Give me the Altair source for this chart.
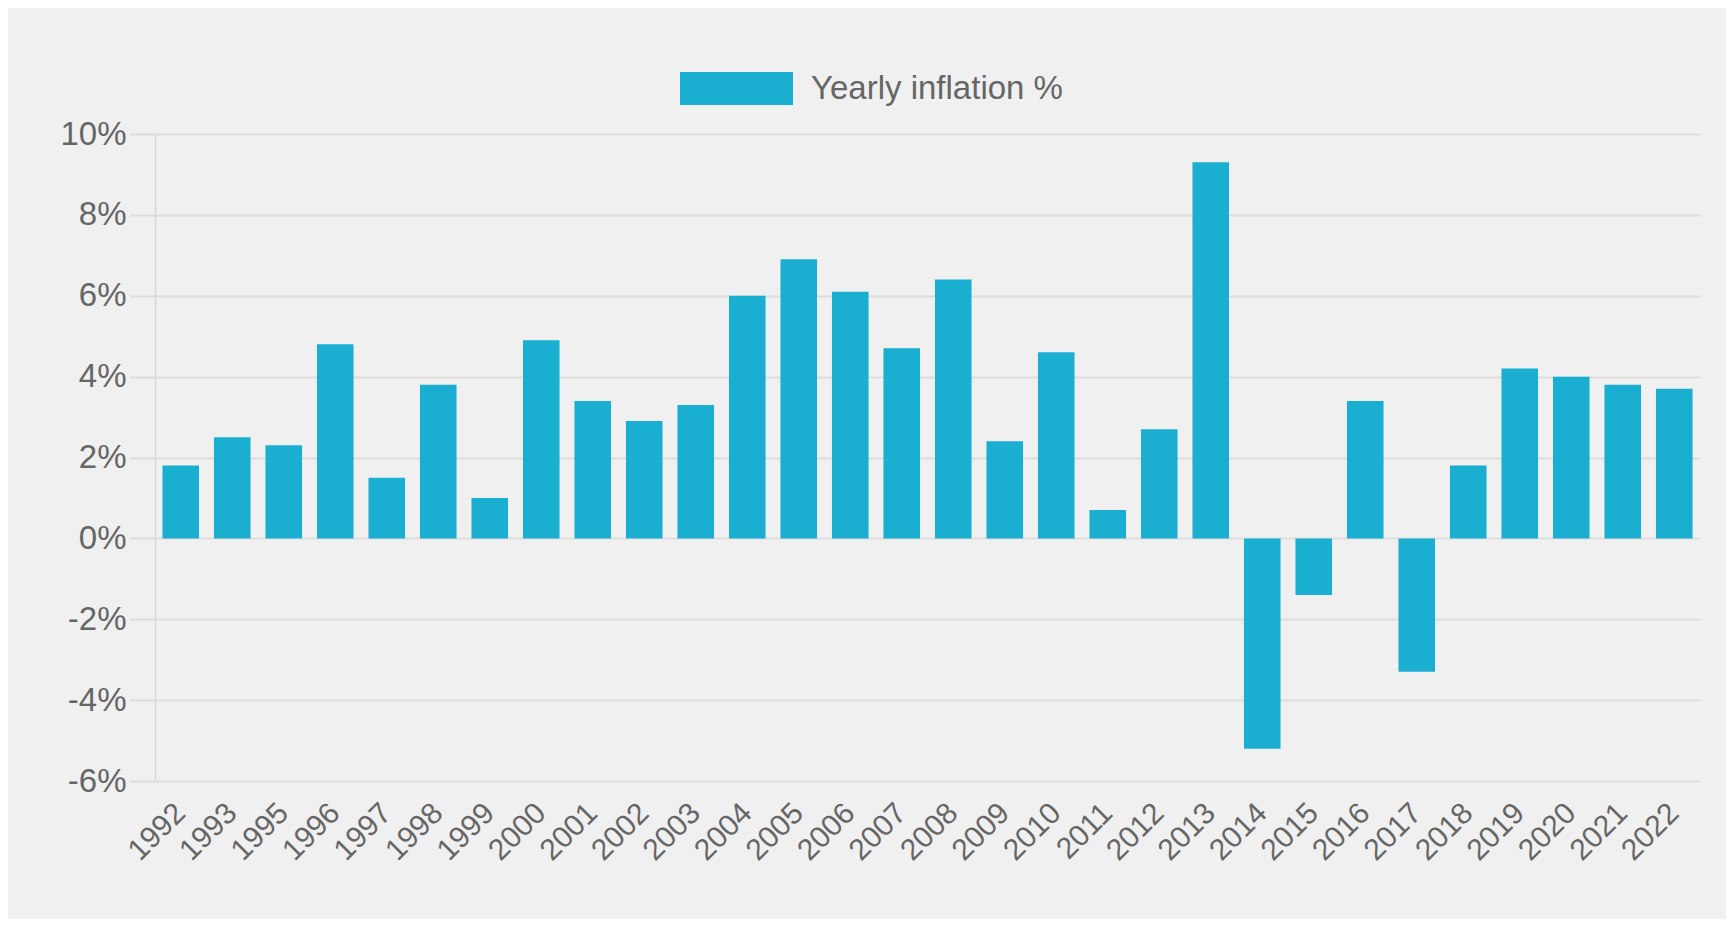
import altair as alt
import pandas as pd

years = ["1992", "1993", "1995", "1996", "1997", "1998", "1999", "2000", "2001", "2002",
         "2003", "2004", "2005", "2006", "2007", "2008", "2009", "2010", "2011", "2012",
         "2013", "2014", "2015", "2016", "2017", "2018", "2019", "2020", "2021", "2022"]
inflation = [1.8, 2.5, 2.3, 4.8, 1.5, 3.8, 1.0, 4.9, 3.4, 2.9,
             3.3, 6.0, 6.9, 6.1, 4.7, 6.4, 2.4, 4.6, 0.7, 2.7,
             9.3, -5.2, -1.4, 3.4, -3.3, 1.8, 4.2, 4.0, 3.8, 3.7]
y_ticks = [-6, -4, -2, 0, 2, 4, 6, 8, 10]
series_name = "Yearly inflation %"

df = pd.DataFrame({"year": years, "value": inflation, "series": series_name})

FONT = "Liberation Sans"
GREY = "#666666"

chart = alt.Chart(df).mark_bar(strokeWidth=0).encode(
    x=alt.X("year:N", sort=years, title=None,
            scale=alt.Scale(paddingInner=0.29, paddingOuter=0.145),
            axis=alt.Axis(labelAngle=-45, labelAlign="right", labelBaseline="middle",
                          labelFontSize=30, labelColor=GREY, labelFont=FONT,
                          labelPadding=27, ticks=False, domain=False, grid=False)),
    y=alt.Y("value:Q", title=None,
            scale=alt.Scale(domain=[-6, 10], nice=False, zero=False),
            axis=alt.Axis(values=y_ticks, labelExpr="datum.value + '%'",
                          grid=True, gridColor="#dddddd", gridWidth=2,
                          tickSize=25, tickColor="#dddddd", tickWidth=2,
                          domainColor="#d6d6d6", domainWidth=1.5,
                          labelPadding=4, labelFontSize=33, labelColor=GREY, labelFont=FONT)),
    color=alt.Color("series:N", scale=alt.Scale(range=["#1aaed0"]),
                    legend=alt.Legend(title=None, orient="none", legendX=525, legendY=-102,
                                      symbolType="M-1,-0.292H1V0.292H-1Z", symbolSize=12769,
                                      symbolStrokeWidth=0, symbolOpacity=1,
                                      labelFontSize=33, labelColor=GREY, labelFont=FONT,
                                      labelLimit=0, labelOffset=18, padding=0)),
).properties(
    width=1545, height=647,
    background="#f0f0f0",
    padding={"left": 147, "top": 126, "right": 26, "bottom": 138},
    autosize=alt.AutoSizeParams(type="none"),
).configure_view(stroke=None)

chart.save("out.html", embed_options={"renderer": "svg", "actions": False})
